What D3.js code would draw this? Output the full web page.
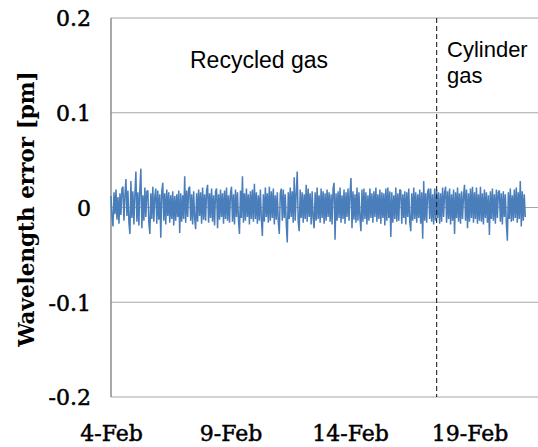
<!DOCTYPE html>
<html>
<head>
<meta charset="utf-8">
<script src="https://cdn.jsdelivr.net/npm/d3@7"></script>
<style>
  body { margin: 0; background: #fff; }
  .grid line { stroke: #a6a6a6; stroke-width: 1.2; }
</style>
</head>
<body>
<svg id="chart"></svg>
<script>
var w = 538;
var h = 447;

// wavelength error, one reading per hour from 4-Feb 00:00, in 1/1000 pm
var errorMilli = [
  12, -10, -20, 16, -7, 19, -13, 11, -17, 15, -8, 20, 22, -14, 13, 30, -9, 18, -16, -28, 28, -11, 17, -18,
  14, 38, -15, 16, -19, 20, 41, -22, 13, -14, 21, -10, 17, 18, -16, -28, 15, -12, 22, -15, 12, 20, -17, 18,
  -13, 14, -32, 17, 26, -14, 15, -18, 19, -9, 16, -16, 13, -12, 17, -19, 12, -14, 14, -10, 18, -27, 15, -15,
  13, -12, 33, -16, 18, -10, 20, 22, -14, 14, -18, 17, -11, -23, 15, -15, 19, -9, 16, -17, 21, -13, 14, -14,
  18, 24, -16, 15, -11, 20, -15, 13, -19, 17, 20, -22, 14, -13, 19, -10, 15, -17, 18, -12, 21, -14, 13, -16,
  15, 22, -15, 14, -18, 19, -10, 16, -13, -28, 18, -11, 33, -16, 15, -14, 20, -10, 14, -18, 17, -12, 19, -15,
  25, -12, 16, -17, 13, -14, 19, -12, -30, 14, -15, 21, -10, 15, -16, 22, -14, 17, -11, 20, -18, 13, -13, 16,
  -15, -28, 15, 20, -14, 19, -11, 14, -17, -37, 16, -12, 21, -10, 17, -16, 32, -14, 15, 38, -15, -25, 19, -11,
  16, -16, 14, -12, 24, -15, 20, -10, 15, -18, 17, -11, -22, 16, -14, 21, -12, 13, -16, 20, -11, 17, -17, 15,
  -14, 19, -10, 16, -15, 14, -18, 20, 26, -34, 15, -14, 17, -11, 21, -16, 13, -12, 19, -17, 16, -10, 20, -14,
  15, 31, -22, 17, -13, 14, -16, 21, -14, 16, -11, -25, 19, -15, 20, -12, 16, -18, 13, -14, 20, -11, 15, -16,
  17, -10, 21, -15, 14, -12, 19, -17, 16, -11, 15, -19, 20, -14, 21, -11, 17, -31, 16, -16, 13, -12, 21, -15,
  15, -14, 19, 18, -17, 14, -11, 17, -18, 16, -10, 20, -15, -25, 15, -14, 21, -12, 16, -16, 14, -11, 19, -17,
  16, -33, 28, -14, 15, -16, 17, 20, -12, 20, -15, 14, -18, 20, -14, 19, -11, 16, -17, 15, -15, 21, -10, 16,
  22, -16, 17, -12, 20, -18, 14, -14, 19, -28, 16, -11, 21, -15, 15, -17, 17, -12, 13, 24, -14, 19, -22, 15,
  -15, 20, -11, 22, -16, 16, -12, 21, -17, 14, -14, 22, -15, 15, -18, 19, -11, 16, -16, 13, -29, 17, -12, 20,
  -14, 14, -17, 19, -11, 16, 18, -15, 15, -18, 17, -10, 14, -16, -35, 16, -12, 20, -15, 13, -14, 19, -11, 21,
  -16, 16, -12, 28, -20, 17, -14, 14, -10
];
var startDate = new Date(2013, 1, 4);
var switchDate = new Date(2013, 1, 17, 15, 0);   // recycled -> cylinder gas
var xTicks = [new Date(2013, 1, 4), new Date(2013, 1, 9), new Date(2013, 1, 14), new Date(2013, 1, 19)];
var yTicks = [-0.2, -0.1, 0, 0.1, 0.2];
var yTickLabels = ["-0.2", "-0.1", "0", "0.1", "0.2"];

var data = errorMilli.map((v, i) => ({
  date: new Date(startDate.getTime() + i * 3600 * 1000),
  value: v / 1000
}));

let svg = d3.select("#chart")
  .attr("width", w)
  .attr("height", h);

let xScale = d3.scaleTime()
  .domain([new Date(2013, 1, 4), new Date(2013, 1, 22)])
  .range([111, 111 + 18 * 23.9]);
let yScale = d3.scaleLinear()
  .domain([-0.2, 0.2])
  .range([397, 18]);

// horizontal gridlines
svg.append("g").attr("class", "grid")
  .selectAll("line")
  .data(yTicks)
  .join("line")
  .attr("x1", xScale.range()[0])
  .attr("x2", w)
  .attr("y1", d => yScale(d))
  .attr("y2", d => yScale(d));

// left axis line
svg.append("line")
  .attr("x1", xScale.range()[0]).attr("x2", xScale.range()[0])
  .attr("y1", yScale(0.2)).attr("y2", yScale(-0.2))
  .attr("stroke", "#8c8c8c")
  .attr("stroke-width", 1.5);

// series
let line = d3.line()
  .x(d => xScale(d.date))
  .y(d => yScale(d.value));
svg.append("path")
  .datum(data)
  .attr("fill", "none")
  .attr("stroke", "#4a7ebb")
  .attr("stroke-width", 1.5)
  .attr("stroke-linejoin", "bevel")
  .attr("d", line);

// gas switch marker
svg.append("line")
  .attr("x1", xScale(switchDate)).attr("x2", xScale(switchDate))
  .attr("y1", yScale(0.2)).attr("y2", yScale(-0.2))
  .attr("stroke", "#222")
  .attr("stroke-width", 1.1)
  .attr("stroke-dasharray", "5,3");

function serifLabels(sel) {
  sel.style("font-family", "'DejaVu Serif', serif")
    .style("font-size", "22px")
    .style("fill", "#000")
    .style("stroke", "#000")
    .style("stroke-width", "0.5px");
}

// y tick labels
let yAxis = d3.axisLeft(yScale)
  .tickValues(yTicks)
  .tickSize(0)
  .tickPadding(0)
  .tickFormat((d, i) => yTickLabels[i]);
let gy = svg.append("g")
  .attr("transform", "translate(91,0)")
  .call(yAxis);
gy.select(".domain").remove();
gy.selectAll("text").attr("dy", "0.36em").call(serifLabels);

// x tick labels
let xAxis = d3.axisBottom(xScale)
  .tickValues(xTicks)
  .tickSize(0)
  .tickPadding(0)
  .tickFormat(d3.timeFormat("%-d-%b"));
let gx = svg.append("g")
  .attr("transform", "translate(0,441)")
  .call(xAxis);
gx.select(".domain").remove();
gx.selectAll("text").attr("dy", "0").call(serifLabels);

// axis title
svg.append("text")
  .attr("transform", "translate(34,209) rotate(-90)")
  .attr("text-anchor", "middle")
  .style("font-family", "'DejaVu Serif', serif")
  .style("font-weight", "bold")
  .style("font-size", "21.5px")
  .text("Wavelength error [pm]");

// annotations
function note(x, y, size, label) {
  svg.append("text")
    .attr("x", x).attr("y", y)
    .style("font-family", "'Liberation Sans', Arial, sans-serif")
    .style("font-size", size + "px")
    .text(label);
}
note(190, 68, 23, "Recycled gas");
note(447, 57, 22, "Cylinder");
note(447, 83, 22, "gas");
</script>
</body>
</html>
